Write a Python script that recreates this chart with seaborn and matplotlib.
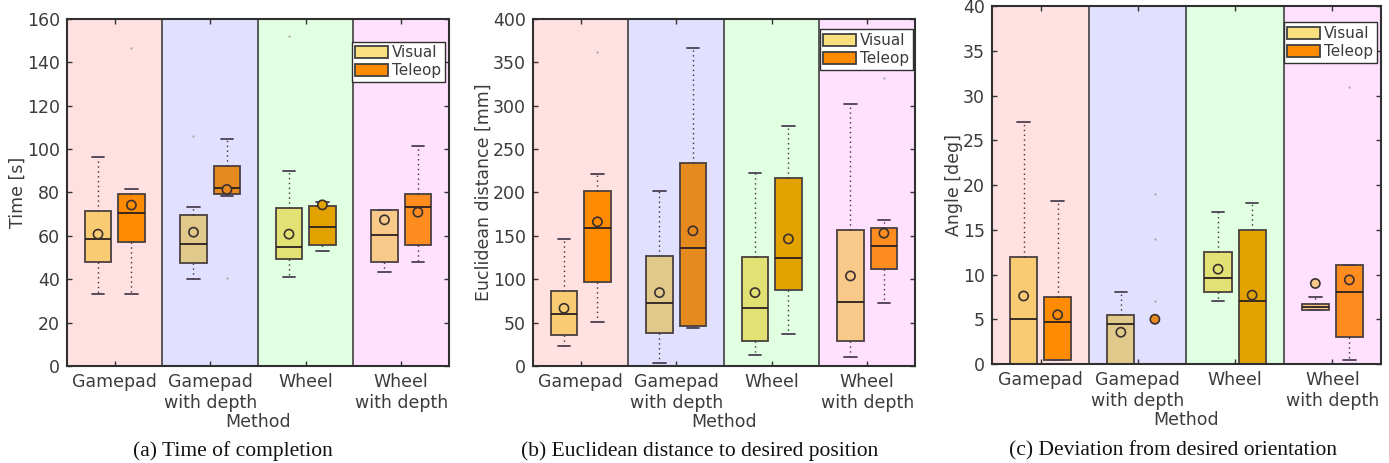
import matplotlib
matplotlib.use("Agg")
import matplotlib.pyplot as plt
from matplotlib.patches import Patch
import seaborn as sns
import pandas as pd

# Data (MATLAB style box plots, summary stats only)
methods = ["Gamepad", "Gamepad\nwith depth", "Wheel", "Wheel\nwith depth"]
groups = ["Visual", "Teleop"]

# order per panel: GP-vis, GP-tel, GD-vis, GD-tel, W-vis, W-tel, WD-vis, WD-tel
time_whislo = [33.2, 33.2, 40.0, 78.5, 41.2, 52.9, 43.5, 47.8]
time_q1 = [47.8, 57.4, 47.7, 79.2, 49.5, 55.7, 47.8, 56.0]
time_med = [58.5, 70.5, 56.2, 82.3, 54.9, 64.3, 60.2, 73.2]
time_q3 = [71.5, 79.4, 69.8, 92.2, 72.9, 73.8, 72.0, 79.4]
time_whishi = [96.2, 81.5, 73.5, 104.5, 89.7, 75.5, 72.0, 101.4]
time_mean = [60.8, 74.2, 61.7, 81.4, 60.8, 74.3, 67.4, 70.9]
time_fliers = [[], [146.8], [106.2], [40.5], [152.3], [], [], []]

dist_whislo = [23.1, 50.8, 3.5, 43.5, 13.1, 36.9, 10.0, 73.1]
dist_q1 = [35.4, 97.3, 38.1, 46.2, 28.5, 88.1, 29.2, 111.5]
dist_med = [59.6, 158.8, 72.7, 136.5, 66.5, 125.0, 73.5, 138.5]
dist_q3 = [86.5, 201.5, 127.3, 233.8, 125.8, 216.5, 156.5, 158.5]
dist_whishi = [146.2, 221.0, 201.5, 366.2, 223.0, 276.2, 301.5, 168.0]
dist_mean = [66.5, 166.2, 84.6, 155.8, 84.6, 146.5, 103.8, 153.1]
dist_fliers = [[], [361.5], [], [], [], [], [], [331.5]]

ang_whislo = [0.0, 0.4, 0.0, 0.0, 7.0, 0.0, 6.0, 0.4]
ang_q1 = [0.0, 0.5, 0.0, 0.0, 8.0, 0.0, 6.0, 3.0]
ang_med = [5.0, 4.7, 4.5, 0.0, 9.6, 7.0, 6.4, 8.0]
ang_q3 = [12.0, 7.5, 5.5, 0.0, 12.5, 15.0, 6.7, 11.05]
ang_whishi = [27.0, 18.2, 8.0, 0.0, 17.0, 18.0, 7.5, 11.05]
ang_mean = [7.6, 5.5, 3.55, 5.0, 10.6, 7.7, 9.0, 9.4]
ang_fliers = [[], [], [], [19.0, 14.0, 7.0], [], [], [], [31.0]]

box_colors = ["#F9CB72", "#FF8C00", "#E0C98A", "#E68A1F",
              "#E2E173", "#E2A200", "#F9C98A", "#FF8C1F"]
bg_colors = ["#FFE1E1", "#E1E1FF", "#E1FFE1", "#FFE1FF"]
legend_colors = ["#F9E07F", "#FF8C00"]

panels = [
    dict(lo=time_whislo, q1=time_q1, med=time_med, q3=time_q3, hi=time_whishi,
         mean=time_mean, fl=time_fliers, ylim=(0, 160), step=20,
         ylabel="Time [s]", caption="(a) Time of completion", cap_x=0.1677,
         rect=[0.0482, 0.2095, 0.275, 0.7495], leg_anchor=(0.99, 0.935)),
    dict(lo=dist_whislo, q1=dist_q1, med=dist_med, q3=dist_q3, hi=dist_whishi,
         mean=dist_mean, fl=dist_fliers, ylim=(0, 400), step=50,
         ylabel="Euclidean distance [mm]", cap_x=0.5035,
         caption="(b) Euclidean distance to desired position",
         rect=[0.3837, 0.2095, 0.275, 0.7495], leg_anchor=(0.995, 0.97)),
    dict(lo=ang_whislo, q1=ang_q1, med=ang_med, q3=ang_q3, hi=ang_whishi,
         mean=ang_mean, fl=ang_fliers, ylim=(0, 40), step=5,
         ylabel="Angle [deg]", cap_x=0.8445,
         caption="(c) Deviation from desired orientation",
         rect=[0.7142, 0.2138, 0.280, 0.7732], leg_anchor=(0.99, 0.955)),
]

sns.set_style("ticks")
plt.rcParams["font.family"] = ["DejaVu Sans"]
txt = "#3c3c3c"
edge = "#4a4040"

fig = plt.figure(figsize=(13.89, 4.63), dpi=100)

positions = []
for i in range(len(methods)):
    positions += [i - 0.175, i + 0.175]

for p in panels:
    ax = fig.add_axes(p["rect"])
    for i, c in enumerate(bg_colors):
        ax.axvspan(i - 0.5, i + 0.5, color=c, lw=0, zorder=0)
    for i in range(1, len(methods)):
        ax.axvline(i - 0.5, color="#404040", lw=1.2, zorder=1)

    stats = []
    for k in range(len(positions)):
        stats.append(dict(whislo=p["lo"][k], q1=p["q1"][k], med=p["med"][k],
                          q3=p["q3"][k], whishi=p["hi"][k], fliers=p["fl"][k]))
    bp = ax.bxp(stats, positions=positions, widths=0.28, capwidths=0.13,
                patch_artist=True, showfliers=True,
                boxprops=dict(edgecolor=edge, linewidth=1.3),
                medianprops=dict(color="#2a2020", linewidth=1.3),
                whiskerprops=dict(color="#3a3030", linewidth=1.0, linestyle=(0, (1, 2.5))),
                capprops=dict(color="#4a4050", linewidth=1.3),
                flierprops=dict(marker=".", markersize=1.5, markeredgecolor="#b0b0b0",
                                markerfacecolor="#b0b0b0", linestyle="none"))
    for patch, c in zip(bp["boxes"], box_colors):
        patch.set_facecolor(c)
        patch.set_zorder(2)

    df_mean = pd.DataFrame({"x": positions, "y": p["mean"], "c": range(8)})
    sns.scatterplot(data=df_mean, x="x", y="y", hue="c", palette=box_colors,
                    s=44, edgecolor="#3a3030", linewidth=1.2, legend=False,
                    ax=ax, zorder=4)

    ax.set_xlim(-0.5, len(methods) - 0.5)
    ax.set_ylim(*p["ylim"])
    ax.set_yticks(range(p["ylim"][0], p["ylim"][1] + 1, p["step"]))
    ax.set_xticks(range(len(methods)))
    ax.set_xticklabels(methods)
    ax.set_xlabel("Method", fontsize=12.5, color=txt, labelpad=1)
    ax.set_ylabel(p["ylabel"], fontsize=12.5, color=txt, labelpad=0)
    ax.tick_params(direction="in", top=True, right=True, labelsize=12.5,
                   labelcolor=txt, color="#333333", length=3.5, width=1, pad=5)
    for s in ax.spines.values():
        s.set_linewidth(1.5)
        s.set_color("#303030")
        s.set_zorder(5)

    handles = [Patch(facecolor=c, edgecolor="#404040", linewidth=1.3, label=g)
               for c, g in zip(legend_colors, groups)]
    leg = ax.legend(handles=handles, loc="upper right",
                    bbox_to_anchor=p["leg_anchor"], fontsize=11,
                    frameon=True, fancybox=False, framealpha=1,
                    edgecolor="#303030", handlelength=2.15, handleheight=0.85,
                    handletextpad=0.25, borderpad=0.25, labelspacing=0.2,
                    borderaxespad=0.0)
    leg.get_frame().set_linewidth(1.0)
    for t in leg.get_texts():
        t.set_color(txt)

    fig.text(p["cap_x"], 0.026, p["caption"], ha="center", va="center",
             fontsize=15.5, family=["Liberation Serif"], color="#111111")

fig.savefig("out.png", dpi=100)
